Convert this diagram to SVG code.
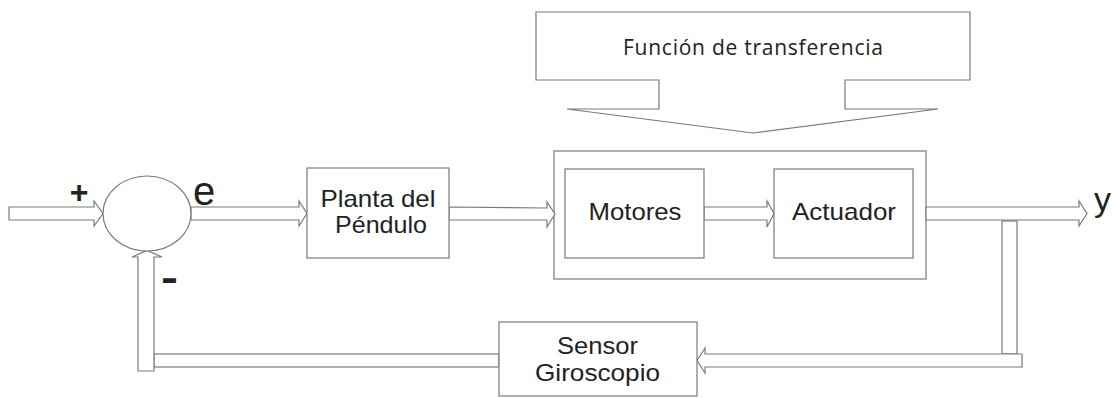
<svg xmlns="http://www.w3.org/2000/svg" width="1112" height="398" viewBox="0 0 1112 398">
<style>
.s{fill:#fff;stroke:#7a7a7a;stroke-width:1.2}
.t{font-family:"Liberation Sans",Arial,sans-serif;fill:#222;text-anchor:middle}
.b{font-size:24px}
.big{font-family:"Liberation Sans",Arial,sans-serif;fill:#222;font-size:40px}
</style>
<rect width="1112" height="398" fill="#fff"/>
<g id="transfer">
<polygon class="s" points="536,12 970,12 970,80 845,80 845,109 938,109 753,133 567,109 659,109 659,80 536,80"/>
<text x="753" y="55" font-family="'Open Sans','Noto Sans',sans-serif" font-size="21" fill="#222" text-anchor="middle" textLength="260">Función de transferencia</text>
</g>
<g id="bloque">
<rect class="s" x="554" y="151" width="372" height="128"/>
</g>
<g id="connectors">
<polygon class="s" points="9,207 94,207 94,201 103,213.5 94,226 94,220 9,220"/>
<polygon class="s" points="191,207 299,207 299,201 307,213.5 299,226 299,220 191,220"/>
<polygon class="s" points="449,207 547,208 547,202 555,214 547,227 547,220 449,220"/>
<polygon class="s" points="704,207 767,207 767,201 774,213.5 767,227 767,220 704,220"/>
<polygon class="s" points="926,207 1079,207 1079,201 1087,213.5 1079,226 1079,220 926,220"/>
<rect class="s" x="1002" y="221" width="15" height="133"/>
<polygon class="s" points="1022,354 705,354 705,348 697,360.5 705,373 705,367 1022,367"/>
<rect class="s" x="154" y="354" width="345" height="13"/>
<polygon class="s" points="138,371 138,257 132,257 147,250.5 162,257 154,257 154,371"/>
</g>
<g id="sum">
<ellipse class="s" cx="147" cy="213.5" rx="44" ry="37.5"/>
<text x="79" y="203" font-family="'Liberation Sans',Arial,sans-serif" font-size="32" font-weight="bold" fill="#222" text-anchor="middle">+</text>
<text x="193" y="205" class="big">e</text>
<text x="161" y="291" font-family="'Liberation Sans',Arial,sans-serif" font-size="40" font-weight="bold" fill="#222" textLength="17" lengthAdjust="spacingAndGlyphs">-</text>
</g>
<g id="planta">
<rect class="s" x="307" y="168" width="142" height="90"/>
<text class="t b" x="378" y="207" textLength="115" lengthAdjust="spacingAndGlyphs">Planta del</text>
<text class="t b" x="381" y="233" textLength="92" lengthAdjust="spacingAndGlyphs">Péndulo</text>
</g>
<g id="motores">
<rect class="s" x="565" y="169" width="139" height="89"/>
<text class="t b" x="635" y="220" textLength="93" lengthAdjust="spacingAndGlyphs">Motores</text>
</g>
<g id="actuador">
<rect class="s" x="774" y="169" width="139" height="89"/>
<text class="t b" x="844" y="220" textLength="104" lengthAdjust="spacingAndGlyphs">Actuador</text>
</g>
<g id="sensor">
<rect class="s" x="499" y="322" width="198" height="74"/>
<text class="t b" x="597.5" y="354" textLength="81" lengthAdjust="spacingAndGlyphs">Sensor</text>
<text class="t b" x="597.5" y="381" textLength="125" lengthAdjust="spacingAndGlyphs">Giroscopio</text>
</g>
<g id="salida">
<text x="1094" y="211" font-family="'Liberation Sans',Arial,sans-serif" font-size="34" fill="#222">y</text>
</g>
</svg>
